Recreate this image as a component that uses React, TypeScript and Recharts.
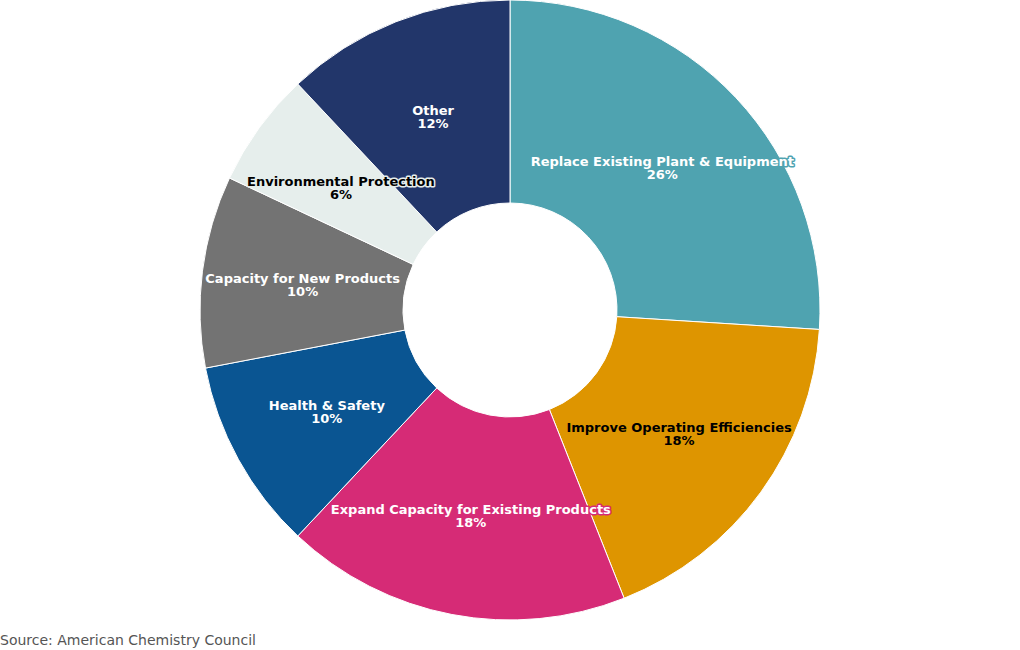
import React from "react";
import { PieChart, Pie, Cell } from "recharts";

const CATEGORIES = [
  "Replace Existing Plant & Equipment",
  "Improve Operating Efficiencies",
  "Expand Capacity for Existing Products",
  "Health & Safety",
  "Capacity for New Products",
  "Environmental Protection",
  "Other",
];
const SHARES = [26, 18, 18, 10, 10, 6, 12];
const COLORS = ["#4FA3B0", "#DE9500", "#D62B76", "#0A5592", "#737373", "#E6EEEC", "#22366A"];
const TEXT_COLORS = ["#ffffff", "#000000", "#ffffff", "#ffffff", "#ffffff", "#000000", "#ffffff"];

const data = CATEGORIES.map((name, i) => ({ name, value: SHARES[i] }));

const RADIAN = Math.PI / 180;
const FONT = "'DejaVu Sans', sans-serif";

const renderLabel = (props: any) => {
  const { cx, cy, midAngle, index, value } = props;
  // labels sit at the middle of the ring
  const r = 209;
  const x = cx + r * Math.cos(-midAngle * RADIAN);
  const y = cy + r * Math.sin(-midAngle * RADIAN);
  const style = {
    fontFamily: FONT,
    fontWeight: 700,
    fontSize: 13,
    paintOrder: "stroke" as const,
  };
  return (
    <text
      x={x}
      y={y}
      textAnchor="middle"
      fill={TEXT_COLORS[index]}
      stroke={COLORS[index]}
      strokeWidth={3}
      strokeLinejoin="round"
      style={style}
    >
      <tspan x={x} dy={-1}>{data[index].name}</tspan>
      <tspan x={x} dy={13}>{`${value}%`}</tspan>
    </text>
  );
};

export default function App() {
  return (
    <div style={{ position: "fixed", left: 0, top: 0, width: 1020, height: 650, background: "#fff" }}>
      <PieChart width={1020} height={650} margin={{ top: 0, right: 0, bottom: 0, left: 0 }}>
        <Pie
          data={data}
          dataKey="value"
          cx={510}
          cy={310}
          innerRadius={107}
          outerRadius={310}
          startAngle={90}
          endAngle={-270}
          stroke="#ffffff"
          strokeWidth={1}
          label={renderLabel}
          labelLine={false}
          isAnimationActive={false}
        >
          {data.map((entry, i) => (
            <Cell key={`cell-${i}`} fill={COLORS[i]} />
          ))}
        </Pie>
      </PieChart>
      <div
        style={{
          position: "absolute",
          left: 0,
          top: 632,
          fontFamily: FONT,
          fontSize: 14,
          color: "#555",
          whiteSpace: "nowrap",
        }}
      >
        Source: American Chemistry Council
      </div>
    </div>
  );
}
